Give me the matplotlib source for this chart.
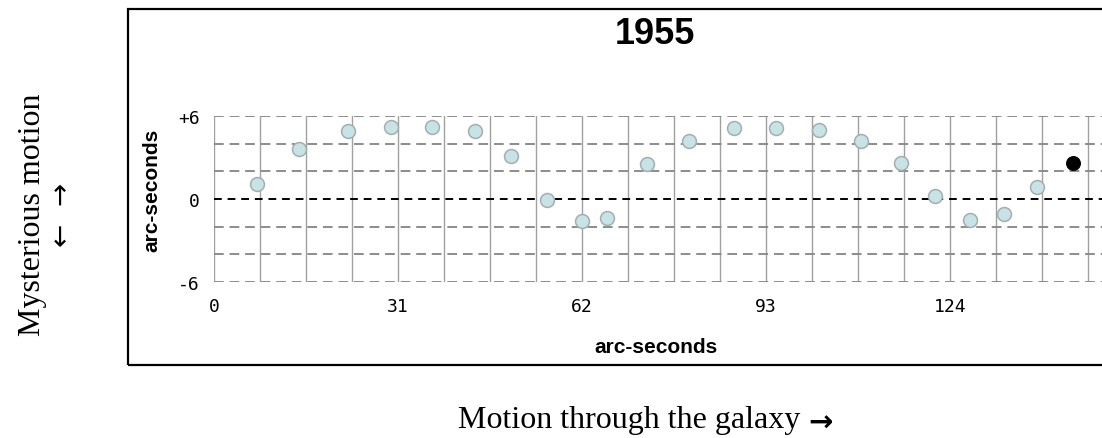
import matplotlib
matplotlib.use('Agg')
from matplotlib import pyplot as plt
from matplotlib.patches import Rectangle

# star positions
pos_x = [7.2, 14.3, 22.5, 29.8, 36.7, 44.0, 50.0, 56.2, 62.0, 66.3, 73.0,
         80.0, 87.7, 94.8, 101.9, 109.0, 115.8, 121.6, 127.4, 133.1, 138.7]
pos_y = [1.1, 3.6, 4.9, 5.2, 5.2, 4.9, 3.1, -0.1, -1.6, -1.4, 2.5,
         4.2, 5.1, 5.1, 5.0, 4.2, 2.6, 0.2, -1.5, -1.1, 0.9]
current_x = [144.8]
current_y = [2.6]

x_ticks = [0, 31, 62, 93, 124]
y_ticks = [-6, 0, 6]
y_tick_labels = ['-6', '0', '+6']
x_grid = [i * 7.75 for i in range(20)]
y_grid = [-6, -4, -2, 2, 4, 6]

W, H = 1102, 439
fig = plt.figure(figsize=(W / 100, H / 100), dpi=100)

# outer frame (right side runs off the picture)
fig.patches.append(Rectangle((128 / W, 1 - 366 / H), 1000 / W, 356 / H,
                             transform=fig.transFigure, fill=False,
                             edgecolor='black', linewidth=1.6))

ax = fig.add_axes([214 / W, 1 - 283 / H, 890 / W, 166 / H])
ax.set_xlim(0, 150)
ax.set_ylim(-6, 6)
for s in ax.spines.values():
    s.set_visible(False)

for gx in x_grid:
    ax.axvline(gx, color='#a0a0a0', linewidth=1.0, zorder=1)
for gy in y_grid:
    ax.axhline(gy, color='#8c8c8c', linewidth=1.4, dashes=(5, 3), zorder=1)
ax.axhline(0, color='black', linewidth=1.4, dashes=(4, 3), zorder=2)

ax.scatter(pos_x, pos_y, s=100, color='#c8e3e6', edgecolor='#a3afaf',
           linewidth=1.1, zorder=3, clip_on=False)
ax.scatter(current_x, current_y, s=95, color='black', zorder=3, clip_on=False)

ax.set_xticks(x_ticks)
ax.set_xticklabels([str(t) for t in x_ticks], family='DejaVu Sans Mono', fontsize=13)
ax.set_yticks(y_ticks)
ax.set_yticklabels(y_tick_labels, family='DejaVu Sans Mono', fontsize=13)
ax.tick_params(length=0, axis='x', pad=11)
ax.tick_params(length=0, axis='y', pad=10)

ax.set_xlabel('arc-seconds', family='Liberation Sans', fontweight='bold',
              fontsize=15)
ax.xaxis.set_label_coords(0.497, -(348 - 283) / 166, transform=ax.transAxes)
ax.xaxis.label.set_va('center')
ax.set_ylabel('arc-seconds', family='Liberation Sans', fontweight='bold',
              fontsize=15)
ax.yaxis.set_label_coords(-(214 - 152) / 890, 0.56, transform=ax.transAxes)
ax.yaxis.label.set_va('center')

fig.text(655 / W, 1 - 34 / H, '1955', family='Liberation Sans',
         fontweight='bold', fontsize=26, ha='center', va='center')

fig.text(33 / W, 1 - 215 / H, 'Mysterious motion', rotation=90,
         family='Liberation Serif', fontsize=23, ha='center', va='center')
fig.text(62 / W, 1 - 215 / H, '\u2190  \u2192', rotation=90,
         family='DejaVu Sans', fontsize=20, ha='center', va='center')
fig.text(800 / W, 1 - 421 / H, 'Motion through the galaxy',
         family='Liberation Serif', fontsize=23, ha='right', va='center')
fig.text(808 / W, 1 - 424 / H, '\u2192', family='DejaVu Sans',
         fontweight='bold', fontsize=21, ha='left', va='center')

fig.savefig('out.png', dpi=100)
